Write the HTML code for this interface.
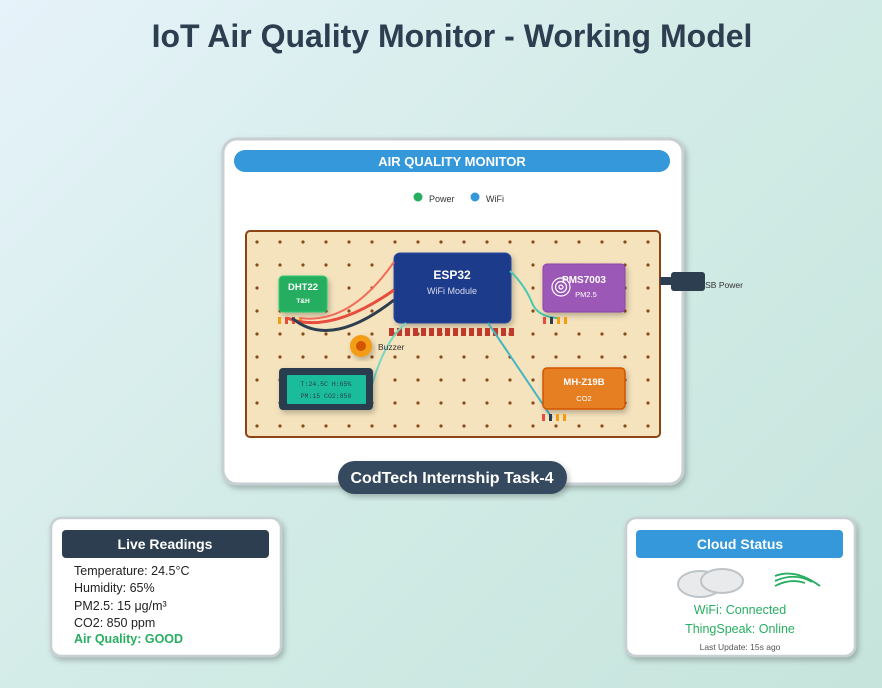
<!DOCTYPE html>
<html><head><meta charset="utf-8"><style>
html,body{margin:0;width:882px;height:688px;overflow:hidden;background:linear-gradient(135deg,#e6f3fa 0%,#d2ebe6 50%,#c6e4dc 100%);font-family:"Liberation Sans",sans-serif}
svg{display:block}
</style></head><body>
<svg width="882" height="688" viewBox="0 0 882 688" xmlns="http://www.w3.org/2000/svg" font-family="Liberation Sans, sans-serif">
<defs>
<filter id="sh" x="-10%" y="-10%" width="130%" height="130%"><feDropShadow dx="2" dy="3" stdDeviation="3" flood-opacity="0.25"/></filter>
<pattern id="dots" x="246" y="230" width="23" height="23" patternUnits="userSpaceOnUse"><circle cx="11" cy="12" r="1.6" fill="#8b4a1c"/></pattern>
</defs>
<text x="452" y="47" text-anchor="middle" font-size="32" font-weight="bold" fill="#2c3e50">IoT Air Quality Monitor - Working Model</text>

<rect x="223" y="139" width="460" height="345" rx="14" fill="#fff" stroke="#c8cfd2" stroke-width="3" filter="url(#sh)"/>
<rect x="234" y="150" width="436" height="22" rx="11" fill="#3498db"/>
<text x="452" y="166" text-anchor="middle" font-size="13" font-weight="bold" fill="#fff">AIR QUALITY MONITOR</text>
<circle cx="418" cy="197" r="4.5" fill="#27ae60"/><text x="429" y="202" font-size="9" fill="#333">Power</text>
<circle cx="475" cy="197" r="4.5" fill="#3498db"/><text x="486" y="202" font-size="9" fill="#333">WiFi</text>

<rect x="246" y="231" width="414" height="206" rx="4" fill="#f5e3bd" stroke="#8b4513" stroke-width="2"/>
<rect x="247" y="232" width="412" height="204" fill="url(#dots)"/>

<!-- USB -->
<rect x="660" y="277" width="14" height="8" fill="#2c3e50"/>
<text x="699" y="288" font-size="8.5" fill="#333">USB Power</text>
<rect x="671" y="272" width="34" height="19" rx="3" fill="#2c3e50"/>

<!-- ESP32 -->
<rect x="394" y="253" width="117" height="70" rx="6" fill="#1e3a8a" stroke="#2a4aa0" filter="url(#sh)"/>
<text x="452" y="279" text-anchor="middle" font-size="12" font-weight="bold" fill="#fff">ESP32</text>
<text x="452" y="294" text-anchor="middle" font-size="9" fill="#dde">WiFi Module</text>
<g fill="#c0392b">
<rect x="389" y="328" width="5" height="8"/><rect x="397" y="328" width="5" height="8"/><rect x="405" y="328" width="5" height="8"/><rect x="413" y="328" width="5" height="8"/><rect x="421" y="328" width="5" height="8"/><rect x="429" y="328" width="5" height="8"/><rect x="437" y="328" width="5" height="8"/><rect x="445" y="328" width="5" height="8"/><rect x="453" y="328" width="5" height="8"/><rect x="461" y="328" width="5" height="8"/><rect x="469" y="328" width="5" height="8"/><rect x="477" y="328" width="5" height="8"/><rect x="485" y="328" width="5" height="8"/><rect x="493" y="328" width="5" height="8"/><rect x="501" y="328" width="5" height="8"/><rect x="509" y="328" width="5" height="8"/>
</g>

<!-- DHT22 -->
<rect x="279" y="276" width="48" height="36" rx="4" fill="#27ae60" stroke="#2ecc71" filter="url(#sh)"/>
<text x="303" y="290" text-anchor="middle" font-size="9.5" font-weight="bold" fill="#fff">DHT22</text>
<text x="303" y="303" text-anchor="middle" font-size="6.5" font-weight="bold" fill="#fff">T&amp;H</text>
<rect x="278" y="317" width="3" height="7" fill="#f39c12"/><rect x="285" y="317" width="3" height="7" fill="#e74c3c"/><rect x="292" y="317" width="3" height="7" fill="#e74c3c"/><rect x="299" y="317" width="3" height="7" fill="#f39c12"/>

<!-- wires -->
<path d="M300,318 Q350,325 394,262" stroke="#f26b5b" stroke-width="2" fill="none"/>
<path d="M287,318 Q330,335 394,290" stroke="#e74c3c" stroke-width="3" fill="none"/>
<path d="M292,318 Q330,350 394,300" stroke="#2c3e50" stroke-width="3" fill="none"/>
<path d="M510,271 Q525,285 533,305 Q540,318 560,318" stroke="#48c9b0" stroke-width="2" fill="none"/>
<path d="M406,323 Q385,340 372,385" stroke="#76d7c4" stroke-width="2" fill="none"/>
<path d="M488,323 Q520,370 552,418" stroke="#45b5c4" stroke-width="2" fill="none"/>

<!-- PMS7003 -->
<rect x="543" y="264" width="82" height="48" rx="4" fill="#9b59b6" stroke="#8e44ad" filter="url(#sh)"/>
<text x="584" y="283" text-anchor="middle" font-size="10" font-weight="bold" fill="#fff">PMS7003</text>
<text x="586" y="297" text-anchor="middle" font-size="7.5" fill="#fff">PM2.5</text>
<circle cx="561" cy="287" r="9" fill="none" stroke="#fff" stroke-width="1.2"/><circle cx="561" cy="287" r="5.5" fill="none" stroke="#fff" stroke-width="1.2"/><circle cx="561" cy="287" r="2" fill="none" stroke="#fff" stroke-width="1.2"/>
<rect x="543" y="317" width="3" height="7" fill="#e74c3c"/><rect x="550" y="317" width="3" height="7" fill="#2c3e50"/><rect x="557" y="317" width="3" height="7" fill="#f39c12"/><rect x="564" y="317" width="3" height="7" fill="#f39c12"/>

<!-- Buzzer -->
<circle cx="361" cy="346" r="11" fill="#f39c12" filter="url(#sh)"/><circle cx="361" cy="346" r="5" fill="#d35400"/>
<text x="378" y="350" font-size="8.5" fill="#333">Buzzer</text>

<!-- LCD -->
<rect x="279" y="368" width="94" height="42" rx="4" fill="#2c3e50" filter="url(#sh)"/>
<rect x="287" y="375" width="79" height="29" rx="1" fill="#1abc9c"/>
<text x="326" y="386" text-anchor="middle" font-size="6.5" font-family="Liberation Mono, monospace" fill="#2c3e50">T:24.5C H:65%</text>
<text x="326" y="398" text-anchor="middle" font-size="6.5" font-family="Liberation Mono, monospace" fill="#2c3e50">PM:15 CO2:850</text>

<!-- MH-Z19B -->
<rect x="543" y="368" width="82" height="41" rx="4" fill="#e67e22" stroke="#d35400" stroke-width="1.5" filter="url(#sh)"/>
<text x="584" y="385" text-anchor="middle" font-size="9.5" font-weight="bold" fill="#fff">MH-Z19B</text>
<text x="584" y="401" text-anchor="middle" font-size="7.5" fill="#fff">CO2</text>
<rect x="542" y="414" width="3" height="7" fill="#e74c3c"/><rect x="549" y="414" width="3" height="7" fill="#2c3e50"/><rect x="556" y="414" width="3" height="7" fill="#f39c12"/><rect x="563" y="414" width="3" height="7" fill="#f39c12"/>

<!-- badge -->
<rect x="338" y="461" width="229" height="33" rx="16.5" fill="#34495e" filter="url(#sh)"/>
<text x="452" y="483" text-anchor="middle" font-size="16" font-weight="bold" fill="#fff">CodTech Internship Task-4</text>

<!-- Live readings -->
<rect x="51" y="518" width="230" height="138" rx="10" fill="#fff" stroke="#c8cfd2" stroke-width="2.5" filter="url(#sh)"/>
<rect x="62" y="530" width="207" height="28" rx="4" fill="#2c3e50"/>
<text x="165" y="549" text-anchor="middle" font-size="14" font-weight="bold" fill="#fff">Live Readings</text>
<g font-size="12.5" fill="#222">
<text x="74" y="575">Temperature: 24.5°C</text>
<text x="74" y="592">Humidity: 65%</text>
<text x="74" y="610">PM2.5: 15 μg/m³</text>
<text x="74" y="627">CO2: 850 ppm</text>
</g>
<text x="74" y="643" font-size="12.5" font-weight="bold" fill="#27ae60">Air Quality: GOOD</text>

<!-- Cloud status -->
<rect x="626" y="518" width="229" height="138" rx="10" fill="#fff" stroke="#c8cfd2" stroke-width="2.5" filter="url(#sh)"/>
<rect x="636" y="530" width="207" height="28" rx="4" fill="#3498db"/>
<text x="740" y="549" text-anchor="middle" font-size="14" font-weight="bold" fill="#fff">Cloud Status</text>
<ellipse cx="700" cy="584" rx="22" ry="13" fill="#e8eaec" stroke="#bdc3c7" stroke-width="2"/>
<ellipse cx="722" cy="581" rx="21" ry="12" fill="#e8eaec" stroke="#bdc3c7" stroke-width="2"/>
<g stroke="#27ae60" stroke-width="1.8" fill="none">
<path d="M775,576 Q795,568 820,586"/><path d="M775,581 Q795,572 812,582"/><path d="M775,586 Q790,578 805,583"/>
</g>
<text x="740" y="614" text-anchor="middle" font-size="12.5" fill="#27ae60">WiFi: Connected</text>
<text x="740" y="633" text-anchor="middle" font-size="12.5" fill="#27ae60">ThingSpeak: Online</text>
<text x="740" y="650" text-anchor="middle" font-size="8.5" fill="#555">Last Update: 15s ago</text>
</svg>
</body></html>
